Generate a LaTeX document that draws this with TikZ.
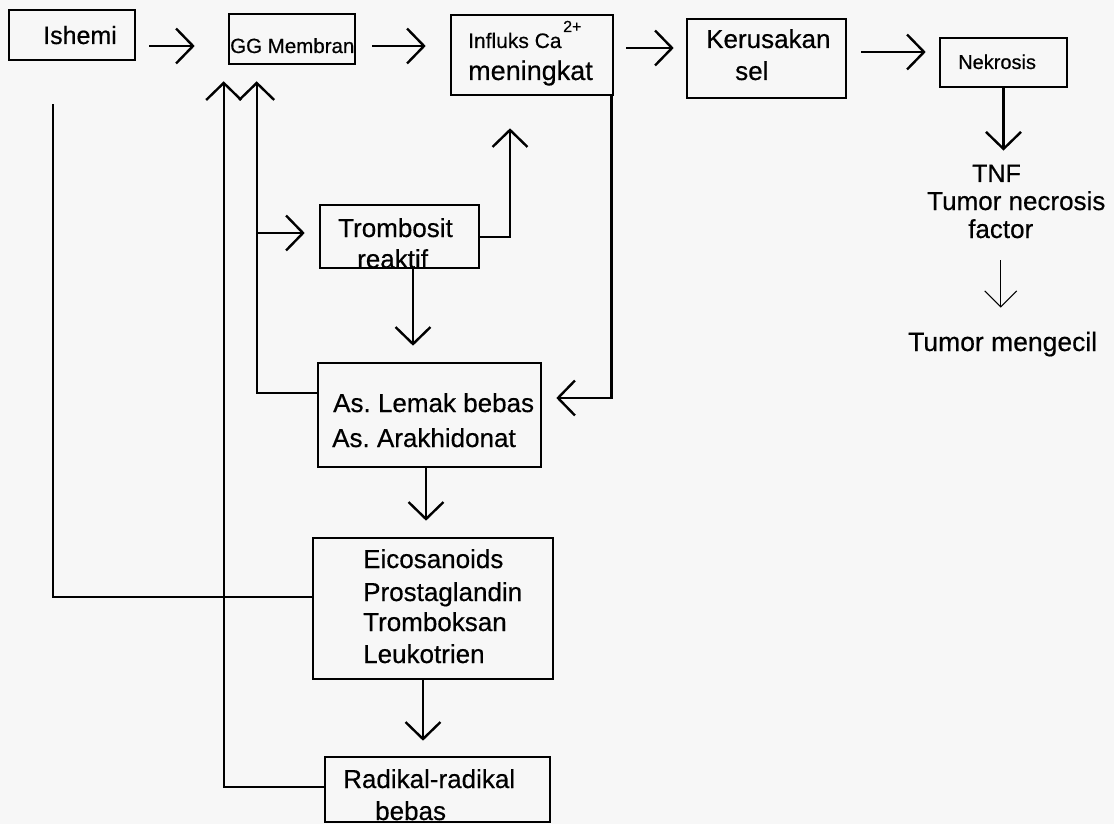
\documentclass[tikz,border=0pt]{standalone}
\usepackage{fontspec}
\setmainfont{Liberation Sans}[FakeBold=0.5]
\frenchspacing
\usetikzlibrary{arrows.meta}
\begin{document}
\begin{tikzpicture}[x=1pt,y=-1pt,
  box/.style={draw, line width=2.6pt, inner sep=0pt, rectangle},
  lbl/.style={inner sep=0pt, anchor=base west, font=\fontsize{26}{30}\selectfont},
  link/.style={line width=2.4pt},
  arr/.style={link, -{Straight Barb[length=17pt,width=35pt]}},
  thinarr/.style={line width=1pt, -{Straight Barb[length=16pt,width=32pt]}},
]
% paper
\path[fill=black!3] (0,0) rectangle (1114,824);
\useasboundingbox (0,0) rectangle (1114,824);

% boxes
\node[box, minimum width=126pt, minimum height=50pt] (ishemi)    at (72,35)      {};
\node[box, minimum width=126pt, minimum height=50pt] (gg)        at (292,39)     {};
\node[box, minimum width=162pt, minimum height=80pt] (influks)   at (532,55)     {};
\node[box, minimum width=159pt, minimum height=79pt] (kerusakan) at (766.5,58.5) {};
\node[box, minimum width=127pt, minimum height=49pt] (nekrosis)  at (1003.5,62.5){};
\node[box, minimum width=159pt, minimum height=63pt] (trombosit) at (399.5,236.5){};
\node[box, minimum width=223pt, minimum height=104pt] (lemak)    at (429.5,415)  {};
\node[box, minimum width=240pt, minimum height=141pt] (eico)     at (433,608.5)  {};
\node[box, minimum width=225pt, minimum height=65pt] (radikal)   at (437.5,789.5){};

% labels
\node[lbl, font=\fontsize{25}{30}\selectfont] (tIshemi) at (43,44) {Ishemi};
\node[lbl, font=\fontsize{20.5}{24}\selectfont] (tGG) at (230,53) {GG Membran};
\node[lbl, font=\fontsize{21}{25}\selectfont] (tInfluks) at (468,48) {Influks Ca};
\node[lbl, font=\fontsize{16}{19}\selectfont] (tIon) at (563,32) {2+};
\node[lbl, font=\fontsize{27}{32}\selectfont] (tMeningkat) at (468,80) {meningkat};
\node[lbl] (tKerusakan) at (706,48) {Kerusakan};
\node[lbl] (tSel) at (735,80) {sel};
\node[lbl, font=\fontsize{20}{24}\selectfont] (tNekrosis) at (958,69) {Nekrosis};
\node[lbl, font=\fontsize{25}{30}\selectfont] (tnf) at (972,182) {TNF};
\node[lbl] (tnfname) at (927,210) {Tumor necrosis};
\node[lbl] (factor) at (968,238) {factor};
\node[lbl, font=\fontsize{26.5}{31}\selectfont] (mengecil) at (908,351) {Tumor mengecil};
\node[lbl] (tTrombosit) at (338,237) {Trombosit};
\node[lbl] (tReaktif) at (357,268) {reaktif};
\node[lbl] (tLemak) at (333,412) {As. Lemak bebas};
\node[lbl] (tArakhidonat) at (332,447) {As. Arakhidonat};
\node[lbl] (tEico) at (363,568) {Eicosanoids};
\node[lbl] (tProsta) at (363,601) {Prostaglandin};
\node[lbl] (tTrombok) at (363,631) {Tromboksan};
\node[lbl] (tLeuko) at (363,663) {Leukotrien};
\node[lbl] (tRadikal) at (343,788) {Radikal-radikal};
\node[lbl] (tBebas) at (375,820) {bebas};

% main chain along the top
\draw[arr] ([shift={(13,11)}]ishemi.east) -- ([shift={(-33,7)}]gg.west);
\draw[arr] ([shift={(16,7)}]gg.east) -- ([shift={(-24,-9)}]influks.west);
\draw[arr] ([shift={(12,-7)}]influks.east) -- ([shift={(-12,-10.5)}]kerusakan.west);
\draw[arr] ([shift={(14,-6.5)}]kerusakan.east) -- ([shift={(-13,-10.5)}]nekrosis.west);

% necrosis branch
\draw[arr, shorten >=14pt] (nekrosis.south) -- (nekrosis.south |- tnf.north);
\draw[thinarr, shorten <=22pt, shorten >=24pt] (factor.south) -- (factor.south |- mengecil.north);

% feedback into the membrane
\draw[arr] ([yshift=22pt]lemak.west) -| ([shift={(29,16)}]gg.south west);
\draw[arr] ([shift={(-62,-3.5)}]trombosit.west) -- ([shift={(-14,-3.5)}]trombosit.west);
\draw[arr] ([yshift=2.5pt]radikal.west) -| ([shift={(-4,16)}]gg.south west);
\draw[link] ([shift={(-19,43)}]ishemi.south) |- ([yshift=11.5pt]eico.west);

% platelet and calcium loops
\draw[arr] ([yshift=-0.5pt]trombosit.east) -| ([shift={(-22,32)}]influks.south);
\draw[arr] ([xshift=13.5pt]trombosit.south) -- ([shift={(-16.5,-16)}]lemak.north);
\draw[arr] ([xshift=-3pt]influks.south east) |- ([shift={(14,-17)}]lemak.east);

% downward cascade
\draw[arr] ([xshift=-3.5pt]lemak.south) -- ([shift={(-7,-16)}]eico.north);
\draw[arr] ([xshift=-10pt]eico.south) -- ([shift={(-14.5,-15)}]radikal.north);
\end{tikzpicture}
\end{document}
